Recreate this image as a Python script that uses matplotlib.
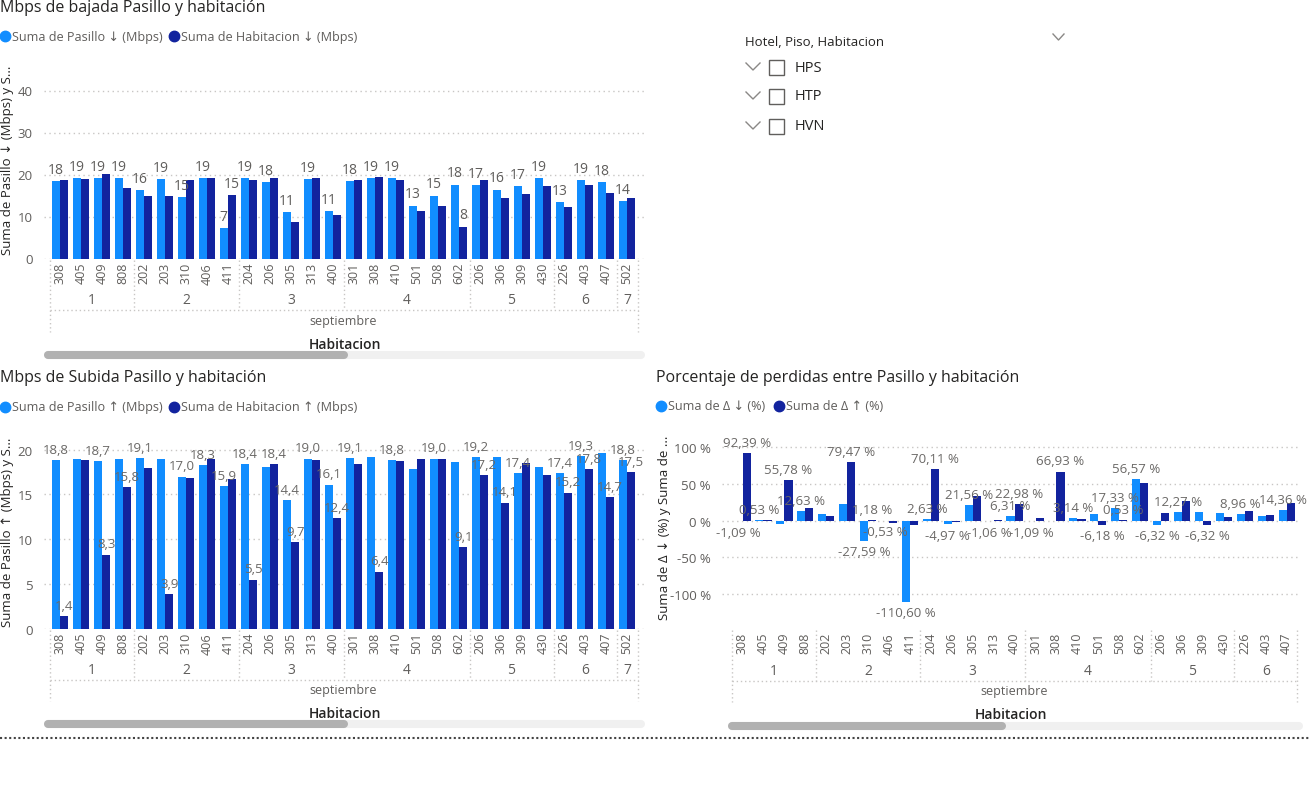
import matplotlib
matplotlib.use('Agg')
import matplotlib.pyplot as plt
from matplotlib.patches import Rectangle
from matplotlib.lines import Line2D

# ---------------- data ----------------
habitaciones = ['308', '405', '409', '808', '202', '203', '310', '406', '411',
                '204', '206', '305', '313', '400', '301', '308', '410', '501',
                '508', '602', '206', '306', '309', '430', '226', '403', '407', '502']
pisos = ['1', '1', '1', '1', '2', '2', '2', '2', '2',
         '3', '3', '3', '3', '3', '4', '4', '4', '4',
         '4', '4', '5', '5', '5', '5', '6', '6', '6', '7']
mes = 'septiembre'

bajada_pasillo = [18.4, 19.2, 19.1, 19.1, 16.3, 19.0, 14.6, 19.1, 7.2,
                  19.1, 18.2, 11.0, 19.0, 11.2, 18.4, 19.2, 19.2, 12.6,
                  15.0, 17.6, 17.4, 16.4, 17.3, 19.2, 13.4, 18.6, 18.2, 13.6]
bajada_habitacion = [18.6, 19.0, 20.1, 16.7, 14.9, 14.8, 18.6, 19.2, 15.1,
                     18.6, 19.1, 8.6, 19.2, 10.4, 18.7, 19.4, 18.6, 11.4,
                     12.5, 7.6, 18.6, 14.4, 15.4, 17.2, 12.2, 17.4, 15.6, 14.4]

subida_pasillo = [18.8, 18.9, 18.7, 19.0, 19.1, 19.0, 17.0, 18.3, 15.9,
                  18.4, 18.1, 14.4, 19.0, 16.1, 19.1, 19.2, 18.8, 17.8,
                  19.0, 18.6, 19.2, 19.2, 17.4, 18.1, 17.4, 19.3, 19.6, 18.8]
subida_habitacion = [1.4, 18.8, 8.3, 15.8, 17.9, 3.9, 16.8, 19.0, 16.7,
                     5.5, 18.4, 9.7, 18.8, 12.4, 18.4, 6.4, 18.7, 18.9,
                     18.9, 9.1, 17.2, 14.1, 18.5, 17.2, 15.2, 17.8, 14.7, 17.5]

# percentage chart shows the first 27 rooms (scrolled view)
delta_bajada = [-1.09, 0.53, -4.5, 12.63, 9.1, 22.7, -27.59, -0.53, -110.60,
                2.63, -4.97, 21.56, -1.06, 6.31, -1.09, -1.0, 3.14, 9.5,
                17.33, 56.57, -6.32, 12.27, 11.8, 10.5, 8.96, 5.9, 14.36]
delta_subida = [92.39, 1.0, 55.78, 17.3, 6.4, 79.47, 1.18, -3.6, -5.5,
                70.11, -1.8, 33.6, 0.8, 22.98, 3.6, 66.93, 1.8, -6.18,
                0.53, 51.4, 10.5, 26.5, -6.32, 5.0, 13.2, 7.7, 24.8]

# which data labels Power BI kept visible (indexes of rooms)
lbl_bajada_pas = list(range(28))
lbl_bajada_hab = [8, 19]
lbl_subida_pas = [0, 2, 4, 6, 7, 8, 9, 11, 12, 13, 14, 16, 18, 20, 22, 24, 25, 27]
lbl_subida_hab = [0, 2, 3, 5, 9, 10, 11, 13, 15, 19, 20, 21, 24, 25, 26, 27]
lbl_delta_baj = [0, 1, 3, 6, 7, 8, 9, 10, 11, 12, 13, 14, 16, 18, 19, 20, 21, 24, 26]
lbl_delta_sub = [0, 2, 5, 6, 9, 13, 15, 17, 18, 22]

# ---------------- style ----------------
C_LIGHT = '#118DFF'
C_DARK = '#12239E'
GRAY = '#605E5C'
DARK = '#252423'
GRID = '#C8C6C4'
FONT = ['Open Sans', 'DejaVu Sans']
plt.rcParams['font.family'] = FONT

W, H = 1309, 803
fig = plt.figure(figsize=(W / 100, H / 100), dpi=100)
fig.patch.set_facecolor('white')


def px_axes(x0, y0, x1, y1):
    return fig.add_axes([x0 / W, 1 - y1 / H, (x1 - x0) / W, (y1 - y0) / H])


def ftext(x, y, s, **kw):
    return fig.text(x / W, 1 - y / H, s, **kw)


def fline(xs, ys, **kw):
    fig.add_artist(Line2D([x / W for x in xs], [1 - y / H for y in ys],
                          transform=fig.transFigure, **kw))


def xpix(ax, xd):
    return ax.transData.transform((xd, 0))[0]


def dot_line(xs, ys, color=GRID):
    fline(xs, ys, color=color, lw=1, linestyle=(0, (1, 2)))


def style_axes(ax, yticks, yfmt, ylim, xlim):
    ax.set_xlim(*xlim)
    ax.set_ylim(*ylim)
    for s in ax.spines.values():
        s.set_visible(False)
    ax.set_xticks([])
    ax.set_yticks(yticks)
    ax.set_yticklabels([yfmt(v) for v in yticks], fontsize=9.5, color=GRAY)
    ax.tick_params(axis='y', length=0, pad=8)
    ax.yaxis.grid(True, linestyle=(0, (1, 2.5)), color=GRID, lw=1)
    ax.set_axisbelow(True)
    ax.patch.set_alpha(0)


def bars(ax, vl, vd, fmt, show_l, show_d, w=0.4, fs=9.5, lblcolor=GRAY):
    n = len(vl)
    xs = list(range(n))
    ax.bar([x - w / 2 for x in xs], vl, width=w, color=C_LIGHT, zorder=2)
    ax.bar([x + w / 2 for x in xs], vd, width=w, color=C_DARK, zorder=2)
    for idxs, vals, off in ((show_l, vl, -w / 2), (show_d, vd, w / 2)):
        for i in idxs:
            v = vals[i]
            if v >= 0:
                ax.annotate(fmt(v), (i + off, v), xytext=(0, 3), textcoords='offset points',
                            ha='center', va='bottom', fontsize=fs, color=lblcolor, zorder=3)
            else:
                ax.annotate(fmt(v), (i + off, v), xytext=(0, -3), textcoords='offset points',
                            ha='center', va='top', fontsize=fs, color=lblcolor, zorder=3)


def xdecor(ax, cats, groups, y_top, y_group, y_sep, y_month, y_bottom, y_title,
           sb_y, sb_x0, sb_x1, th_x1):
    n = len(cats)
    for i, c in enumerate(cats):
        ftext(xpix(ax, i), y_top + 1, c, rotation=90, ha='center', va='top',
              fontsize=9, color=GRAY)
    # group runs
    runs = []
    start = 0
    for i in range(1, n + 1):
        if i == n or groups[i] != groups[start]:
            runs.append((start, i - 1, groups[start]))
            start = i
    for a, b, g in runs:
        ftext(xpix(ax, (a + b) / 2), y_group, g, ha='center', va='center',
              fontsize=10, color=GRAY)
        if a > 0:
            xb = xpix(ax, a - 0.5)
            dot_line([xb, xb], [y_top - 1, y_sep])
    xl = xpix(ax, -0.5)
    xr = xpix(ax, n - 0.5)
    dot_line([xl, xl], [y_top - 1, y_bottom])
    dot_line([xr, xr], [y_top - 1, y_bottom])
    dot_line([xl, xr], [y_sep, y_sep])
    ftext((xl + xr) / 2, y_month, mes, ha='center', va='center', fontsize=9, color=GRAY)
    x0a = ax.get_position().x0 * W
    x1a = ax.get_position().x1 * W
    ftext((x0a + x1a) / 2, y_title, 'Habitacion', ha='center', va='center',
          fontsize=10, color=DARK, fontweight='semibold')
    # scrollbar
    fline([sb_x0 + 4, sb_x1 - 4], [sb_y, sb_y], color='#F0F0F0', lw=5.8,
          solid_capstyle='round')
    fline([sb_x0 + 4, th_x1 - 4], [sb_y, sb_y], color='#B1B1B1', lw=5.8,
          solid_capstyle='round')


def legend(y, x_first, label1, x_second, label2):
    for xc, lab in ((x_first, label1), (x_second, label2)):
        col = C_LIGHT if xc == x_first else C_DARK
        fig.add_artist(Line2D([xc / W], [1 - y / H], marker='o', markersize=7.5,
                              color=col, transform=fig.transFigure, lw=0))
        ftext(xc + 7, y, lab, ha='left', va='center', fontsize=9.1, color=GRAY)


fmt0 = lambda v: f'{v:.0f}'
fmt1 = lambda v: f'{v:.1f}'.replace('.', ',')
fmtp = lambda v: f'{v:.2f} %'.replace('.', ',')

# ---------------- chart 1: bajada ----------------
pitch = 21.0
ax1 = px_axes(44, 84, 646, 259.5)
style_axes(ax1, [0, 10, 20, 30, 40], fmt0, (0, (259.5 - 84) / 4.2),
           (-(60 - 44) / pitch, (646 - 60) / pitch))
bars(ax1, bajada_pasillo, bajada_habitacion, fmt0, lbl_bajada_pas, lbl_bajada_hab, fs=10)
ftext(0, 8, 'Mbps de bajada Pasillo y habitación', ha='left', va='center',
      fontsize=11.5, color=DARK)
legend(37, 5, 'Suma de Pasillo ↓ (Mbps)', 174, 'Suma de Habitacion ↓ (Mbps)')
ftext(8, 160, 'Suma de Pasillo ↓ (Mbps) y S...', rotation=90, ha='center', va='center',
      fontsize=9.5, color=DARK)
xdecor(ax1, habitaciones, pisos, 262, 301, 311, 322, 333, 345, 356, 44, 645, 348)

# ---------------- chart 2: subida ----------------
ax2 = px_axes(44, 440, 646, 630)
style_axes(ax2, [0, 5, 10, 15, 20], fmt0, (0, 190 / 8.97),
           (-(60 - 44) / pitch, (646 - 60) / pitch))
bars(ax2, subida_pasillo, subida_habitacion, fmt1, lbl_subida_pas, lbl_subida_hab,
     fs=9.5, lblcolor='#6B6967')
ftext(0, 378, 'Mbps de Subida Pasillo y habitación', ha='left', va='center',
      fontsize=11.5, color=DARK)
legend(408, 5, 'Suma de Pasillo ↑ (Mbps)', 174, 'Suma de Habitacion ↑ (Mbps)')
ftext(8, 532, 'Suma de Pasillo ↑ (Mbps) y S...', rotation=90, ha='center', va='center',
      fontsize=9.5, color=DARK)
xdecor(ax2, habitaciones, pisos, 632, 671, 681, 691, 702, 714, 725, 44, 645, 348)

# ---------------- chart 3: porcentaje ----------------
pitch3 = 20.93
ax3 = px_axes(722, 440, 1300, 630)
style_axes(ax3, [-100, -50, 0, 50, 100], lambda v: f'{v:.0f} %', (-147.7, 111.4),
           (-(742.5 - 722) / pitch3, (1300 - 742.5) / pitch3))
bars(ax3, delta_bajada, delta_subida, fmtp, lbl_delta_baj, lbl_delta_sub,
     w=0.39, fs=9.5, lblcolor='#6B6967')
ftext(656, 378, 'Porcentaje de perdidas entre Pasillo y habitación', ha='left',
      va='center', fontsize=11.5, color=DARK)
legend(407, 661, 'Suma de Δ ↓ (%)', 779, 'Suma de Δ ↑ (%)')
ftext(664, 528, 'Suma de Δ ↓ (%) y Suma de ...', rotation=90, ha='center', va='center',
      fontsize=9.5, color=DARK)
xdecor(ax3, habitaciones[:len(delta_bajada)], pisos[:len(delta_bajada)],
       632, 672, 682, 692, 703, 715, 727, 728, 1303, 1006)

# ---------------- slicer ----------------
ftext(745, 42, 'Hotel, Piso, Habitacion', ha='left', va='center', fontsize=9.5, color=DARK)
fline([1053, 1058.5, 1064], [35, 41, 35], color='#8A8886', lw=1)
for yy, name in ((68, 'HPS'), (97, 'HTP'), (127, 'HVN')):
    fline([746, 753, 760], [yy - 4, yy + 3, yy - 4], color='#8A8886', lw=1)
    fig.add_artist(Rectangle((769 / W, 1 - (yy + 7.5) / H), 15 / W, 15 / H, fill=False,
                             ec='#605E5C', lw=1, transform=fig.transFigure))
    ftext(795, yy, name, ha='left', va='center', fontsize=10.5, color=DARK)

# bottom dotted separator
fline([0, W], [739, 739], color='#444444', lw=1.5, linestyle=(0, (1, 1.2)))

fig.savefig('out.png', dpi=100, facecolor='white')
